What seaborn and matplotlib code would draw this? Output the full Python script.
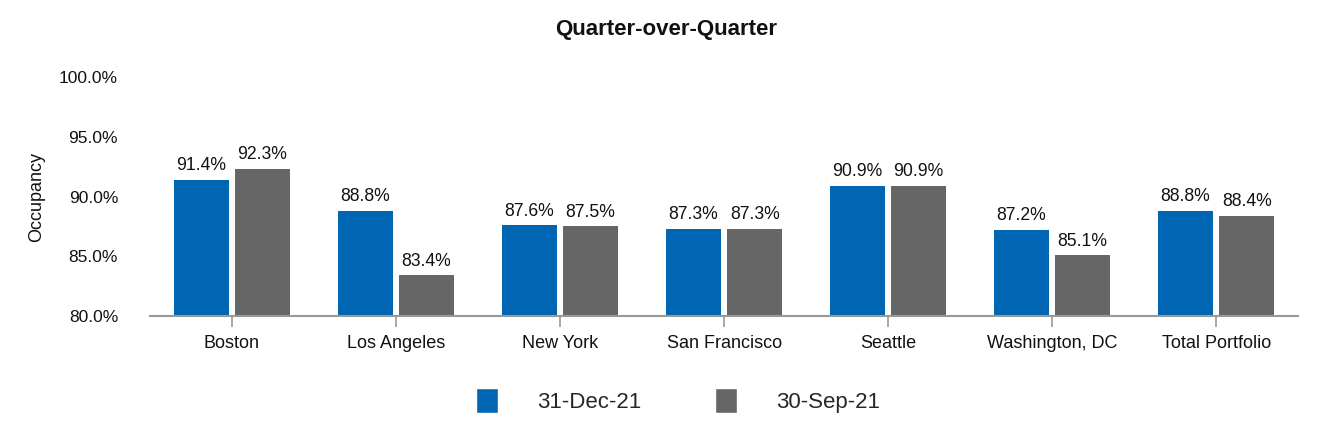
import matplotlib
matplotlib.use("Agg")
import matplotlib.pyplot as plt
import seaborn as sns
import pandas as pd
from matplotlib.patches import Patch
from matplotlib.ticker import FuncFormatter

categories = ["Boston", "Los Angeles", "New York", "San Francisco", "Seattle", "Washington, DC", "Total Portfolio"]
dec21 = [91.4, 88.8, 87.6, 87.3, 90.9, 87.2, 88.8]
sep21 = [92.3, 83.4, 87.5, 87.3, 90.9, 85.1, 88.4]
series = ["31-Dec-21", "30-Sep-21"]
colors = ["#0066B3", "#666666"]

sns.set_theme(style="white")
plt.rcParams['font.family'] = ['Liberation Sans', 'DejaVu Sans']

df = pd.DataFrame({
    "City": categories * 2,
    "Occupancy": dec21 + sep21,
    "Period": [series[0]] * len(categories) + [series[1]] * len(categories),
})

fig = plt.figure(figsize=(13.32, 4.4), dpi=100)
ax = fig.add_axes([0.1126, 0.2818, 0.862, 0.5432])

sns.barplot(data=df, x="City", y="Occupancy", hue="Period", palette=colors, saturation=1,
            width=0.745, gap=0.1, linewidth=0, ax=ax, legend=False)

ax.set_ylim(80, 100)
ax.set_yticks([80, 85, 90, 95, 100])
ax.yaxis.set_major_formatter(FuncFormatter(lambda v, p: f"{v:.1f}%"))
ax.set_xlim(-0.5, len(categories) - 0.5)

for c in ax.containers:
    ax.bar_label(c, labels=[f"{v:.1f}%" for v in c.datavalues], padding=4, fontsize=12.7, color="#111111")

for s in ["top", "right", "left"]:
    ax.spines[s].set_visible(False)
ax.spines["bottom"].set_color("#999999")
ax.spines["bottom"].set_linewidth(1.5)
ax.tick_params(axis="x", which="both", bottom=True, length=8, width=1.2, color="#999999",
               labelsize=13, pad=6, labelcolor="#111111")
ax.tick_params(axis="y", left=False, labelsize=12.5, pad=17, labelcolor="#111111")
ax.set_xlabel("")
ax.set_ylabel("Occupancy", fontsize=13, color="#111111", labelpad=10)

fig.suptitle("Quarter-over-Quarter", x=0.5, y=0.932, va="center", fontsize=16, fontweight="bold", color="#111111")

handles = [Patch(facecolor=colors[0]), Patch(facecolor=colors[1])]
fig.legend(handles, series, loc="center", bbox_to_anchor=(0.509, 0.09), ncol=2, frameon=False,
           prop={"family": ["Liberation Sans"], "size": 16},
           handlelength=1.0, handleheight=1.4, handletextpad=1.75, columnspacing=3.3)

fig.savefig("out.png", dpi=100)
